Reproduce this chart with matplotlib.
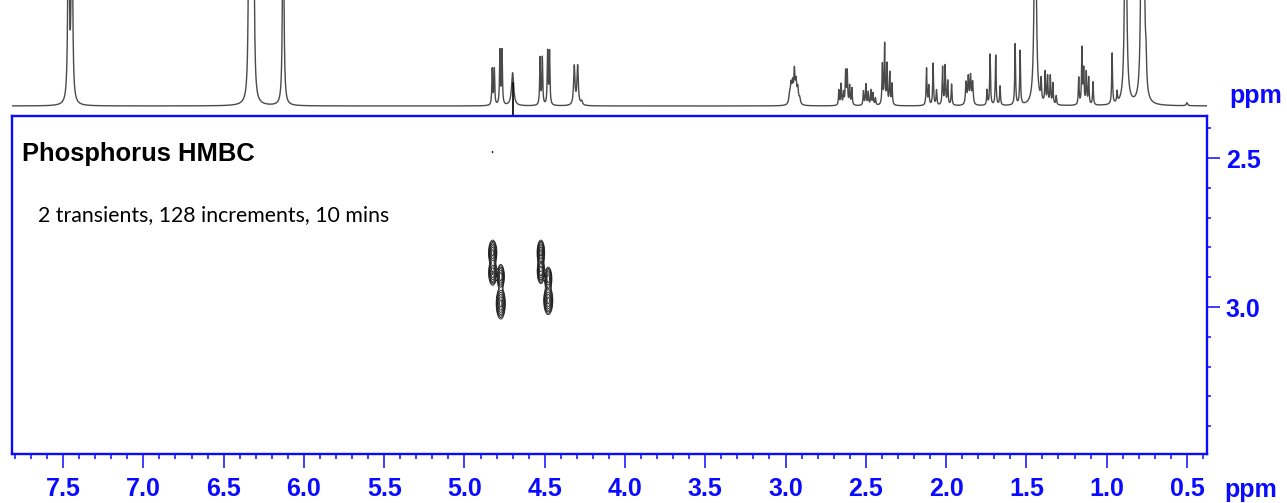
import numpy as np
import matplotlib
matplotlib.use("Agg")
import matplotlib.pyplot as plt
from matplotlib.ticker import MultipleLocator, FixedLocator

# ---------------- data ----------------
# 1H spectrum peak list: shift (ppm), height (plot units), half width (ppm)
h1_shift = [7.466, 7.445,
            6.341, 6.333, 6.322, 6.314,
            6.129,
            4.827, 4.814, 4.779, 4.766, 4.700,
            4.529, 4.515, 4.482, 4.470,
            4.316, 4.295, 4.270,
            2.975, 2.966, 2.956, 2.945, 2.935, 2.924, 2.912,
            2.668, 2.654, 2.639, 2.626, 2.616, 2.601, 2.587,
            2.515, 2.500, 2.485, 2.468, 2.455, 2.440,
            2.397, 2.383, 2.368, 2.351, 2.337,
            2.122, 2.108, 2.081, 2.060, 2.022, 2.006, 1.990, 1.966,
            1.876, 1.862, 1.848, 1.835,
            1.745, 1.726, 1.691, 1.664,
            1.570, 1.539,
            1.445,
            1.408, 1.383, 1.368, 1.351, 1.335, 1.314,
            1.174, 1.154, 1.143, 1.127, 1.112, 1.085,
            0.966, 0.935,
            0.882,
            0.782, 0.770, 0.755,
            0.500]
h1_height = [300, 300,
             300, 300, 300, 300,
             300,
             36, 36, 54, 54, 33,
             47, 47, 53, 53,
             39, 39, 4,
             9, 18, 19, 30, 21, 15, 6,
             15, 21, 12, 33, 33, 19, 17,
             14, 21, 13, 15, 12, 7,
             40, 60, 40, 32, 21,
             37, 19, 42, 15, 38, 39, 24, 21,
             22, 27, 28, 22,
             15, 51, 50, 19,
             61, 54,
             300,
             21, 31, 27, 28, 21, 9,
             27, 56, 34, 32, 27, 23,
             51, 11,
             300,
             300, 300, 28,
             3]
h1_width = [0.004, 0.004,
            0.004, 0.003, 0.003, 0.004,
            0.004,
            0.003, 0.003, 0.003, 0.003, 0.008,
            0.003, 0.003, 0.003, 0.003,
            0.005, 0.005, 0.006,
            0.005, 0.005, 0.005, 0.004, 0.005, 0.005, 0.005,
            0.003, 0.003, 0.003, 0.003, 0.003, 0.003, 0.003,
            0.003, 0.003, 0.003, 0.003, 0.003, 0.003,
            0.003, 0.003, 0.003, 0.003, 0.003,
            0.003, 0.003, 0.003, 0.003, 0.003, 0.003, 0.003, 0.003,
            0.004, 0.004, 0.004, 0.004,
            0.003, 0.003, 0.003, 0.003,
            0.003, 0.003,
            0.006,
            0.003, 0.003, 0.003, 0.003, 0.003, 0.003,
            0.003, 0.003, 0.003, 0.003, 0.003, 0.003,
            0.003, 0.003,
            0.006,
            0.005, 0.005, 0.004,
            0.005]

# 2D 1H-31P HMBC cross peaks: F2 (1H, ppm), F1 (ppm), amplitude, sigma F2, sigma F1
cp_f2 = [4.824, 4.824, 4.774, 4.774, 4.524, 4.524, 4.478, 4.478, 4.825]
cp_f1 = [2.818, 2.885, 2.898, 2.988, 2.818, 2.880, 2.905, 2.978, 2.480]
cp_amp = [1.0, 0.9, 0.8, 1.0, 1.0, 0.85, 0.8, 1.0, 0.075]
cp_sf2 = [0.011, 0.011, 0.010, 0.012, 0.010, 0.010, 0.010, 0.012, 0.003]
cp_sf1 = [0.018, 0.018, 0.018, 0.022, 0.018, 0.018, 0.017, 0.020, 0.004]
contour_levels = [0.06, 0.1, 0.16, 0.25, 0.4, 0.6, 0.85]

cursor_ppm = 4.700

x_limits = (7.82, 0.375)
y_limits = (3.493, 2.359)
x_major_ticks = [7.5, 7.0, 6.5, 6.0, 5.5, 5.0, 4.5, 4.0, 3.5, 3.0, 2.5, 2.0, 1.5, 1.0, 0.5]
x_tick_labels = ["7.5", "7.0", "6.5", "6.0", "5.5", "5.0", "4.5", "4.0", "3.5", "3.0", "2.5", "2.0", "1.5", "1.0", "0.5"]
y_major_ticks = [2.5, 3.0]
y_tick_labels = ["2.5", "3.0"]

title_text = "Phosphorus HMBC"
subtitle_text = "2 transients, 128 increments, 10 mins"

# ---------------- figure ----------------
W, H, DPI = 1287, 503, 100
BLUE = "#0a0aff"
fig = plt.figure(figsize=(W / DPI, H / DPI), dpi=DPI)

def px_rect(x0, y0, x1, y1):
    return [x0 / W, 1 - y1 / H, (x1 - x0) / W, (y1 - y0) / H]

LEFT, RIGHT = 11.7, 1207.0
ax1 = fig.add_axes(px_rect(LEFT, 0, RIGHT, 108))
ax2 = fig.add_axes(px_rect(LEFT, 116, RIGHT, 454))

# 1D spectrum
x = np.linspace(x_limits[0], x_limits[1], 30000)
y = np.zeros_like(x)
for s, h, w in zip(h1_shift, h1_height, h1_width):
    y += h * w ** 2 / ((x - s) ** 2 + w ** 2)
ax1.plot(x, y, color="#4a4a4a", lw=1.0)
ax1.set_xlim(*x_limits)
ax1.set_ylim(-2, 106)
ax1.axis("off")
ax1.plot([cursor_ppm, cursor_ppm], [23, -12], color="black", lw=1.2, clip_on=False)

# 2D contour
f2 = np.arange(4.30, 5.00, 0.0008)
f1 = np.arange(2.40, 3.20, 0.0008)
X, Y = np.meshgrid(f2, f1)
Z = np.zeros_like(X)
for a, b, amp, s2, s1 in zip(cp_f2, cp_f1, cp_amp, cp_sf2, cp_sf1):
    Z += amp * np.exp(-((X - a) ** 2) / (2 * s2 ** 2) - ((Y - b) ** 2) / (2 * s1 ** 2))
ax2.contour(X, Y, Z, levels=contour_levels, colors="#1a1a1a", linewidths=0.6)

ax2.set_xlim(*x_limits)
ax2.set_ylim(*y_limits)
for sp in ax2.spines.values():
    sp.set_color(BLUE)
    sp.set_linewidth(1.7)

tick_font = dict(family="Liberation Sans", weight="bold", size=18)
ax2.xaxis.set_major_locator(FixedLocator(x_major_ticks))
ax2.set_xticklabels(x_tick_labels, fontdict=tick_font, color=BLUE)
ax2.xaxis.set_minor_locator(MultipleLocator(0.1))
ax2.yaxis.tick_right()
ax2.yaxis.set_major_locator(FixedLocator(y_major_ticks))
ax2.set_yticklabels(y_tick_labels, fontdict=tick_font, color=BLUE)
ax2.yaxis.set_minor_locator(MultipleLocator(0.1))
ax2.tick_params(axis="x", which="major", length=10, width=1.1, color=BLUE, pad=6.5)
ax2.tick_params(axis="x", which="minor", length=3.6, width=1.1, color=BLUE)
ax2.tick_params(axis="y", which="major", length=9.5, width=1.1, color=BLUE, pad=4)
ax2.tick_params(axis="y", which="minor", length=3.2, width=1.1, color=BLUE)

# ppm labels
ppm_font = {"family": "Liberation Sans", "weight": "bold", "size": 18}
fig.text(1224 / W, 1 - 497 / H, "ppm", color=BLUE, va="baseline", ha="left", **ppm_font)
fig.text(1229 / W, 1 - 103 / H, "ppm", color=BLUE, va="baseline", ha="left", **ppm_font)

# texts
t1 = fig.text(22.5 / W, 1 - 161 / H, title_text, family="Liberation Sans", weight="bold",
              size=18, color="black", va="baseline", ha="left")
t2 = fig.text(38 / W, 1 - 221 / H, subtitle_text, family="Lato", size=16,
              color="black", va="baseline", ha="left")

# scale text sizes to the widths seen in the reference
fig.canvas.draw()
r = fig.canvas.get_renderer()
for t, target in ((t1, 232.0), (t2, 352.0)):
    bw = t.get_window_extent(renderer=r).width
    t.set_fontsize(t.get_fontsize() * target / bw)

fig.savefig("out.png", dpi=DPI)
